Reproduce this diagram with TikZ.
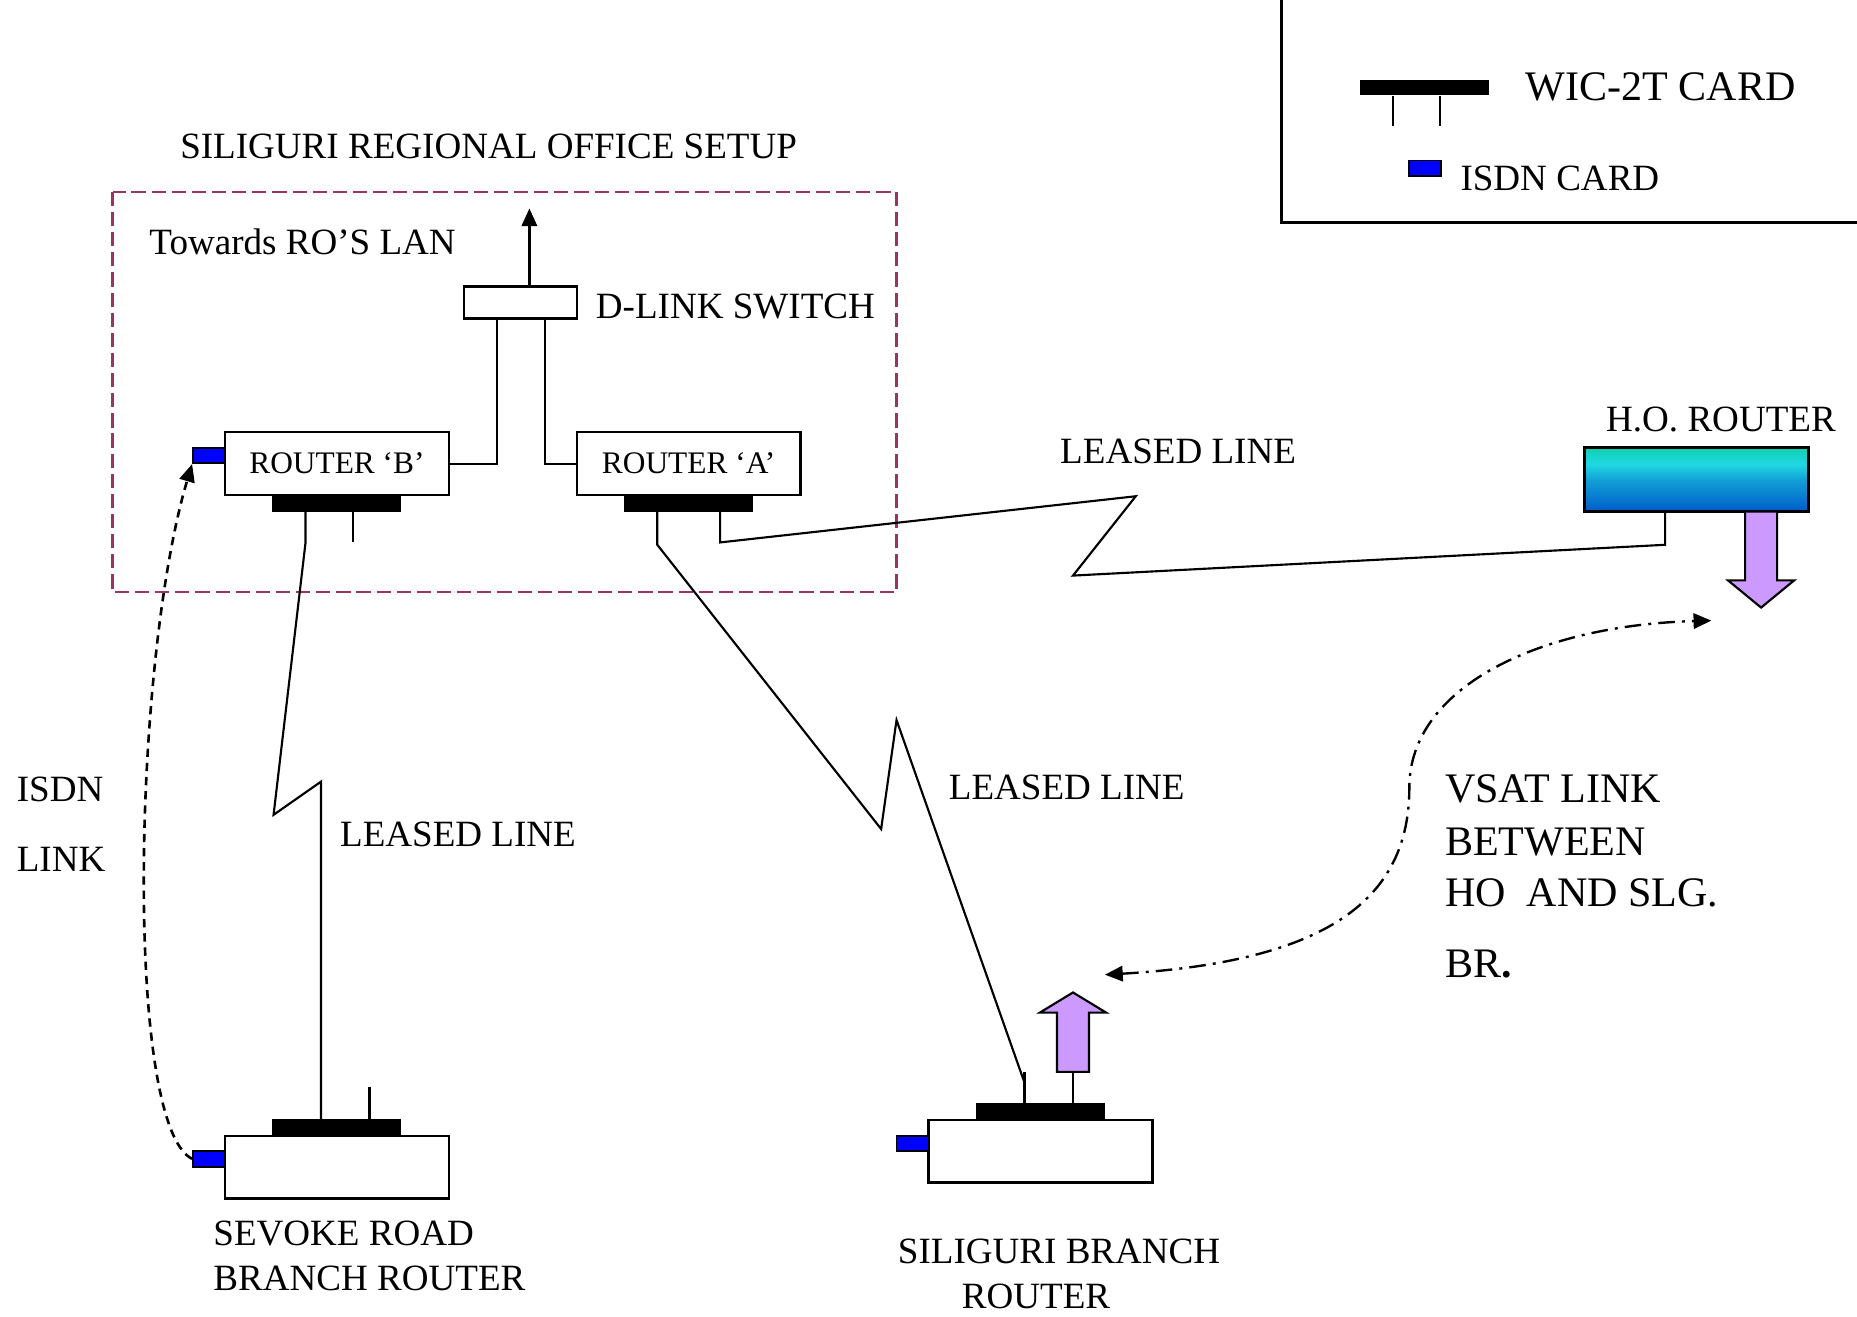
\documentclass[tikz,border=0pt]{standalone}
\usepackage{fontspec}
\setmainfont{Liberation Serif}
\usetikzlibrary{arrows.meta}
\definecolor{isdnblue}{RGB}{0,0,255}
\definecolor{vpurple}{RGB}{204,153,255}
\definecolor{roframe}{RGB}{153,51,102}
\definecolor{hotop}{RGB}{14,208,176}
\definecolor{hocyan}{RGB}{32,216,226}
\definecolor{hobot}{RGB}{0,92,200}
\pgfdeclareverticalshading{horouter}{100bp}{color(0bp)=(hobot); color(25bp)=(hobot); color(50bp)=(hobot!45!hocyan); color(62bp)=(hocyan); color(75bp)=(hotop); color(100bp)=(hotop)}
\newcommand\fa{\fontsize{31.3}{38}\selectfont}
\newcommand\fr{\fontsize{26.5}{32}\selectfont}
\newcommand\fb{\fontsize{35.5}{42}\selectfont}
\begin{document}
\begin{tikzpicture}[x=1pt,y=-1pt,
  rbox/.style={draw, line width=2pt, fill=white, inner sep=0pt, minimum width=189pt, minimum height=53pt},
  sbox/.style={draw, line width=2pt, fill=white, inner sep=0pt, minimum width=95pt, minimum height=27pt},
  wic/.style={fill=black, inner sep=0pt, minimum width=109pt, minimum height=14pt},
  isdn/.style={draw, line width=1.6pt, fill=isdnblue, inner sep=0pt, minimum width=27pt, minimum height=13pt},
  lbl/.style={anchor=base west, inner sep=0pt, text=black},
  conn/.style={line width=1.8pt},
  bigarrow/.style={draw, line width=1.8pt, fill=vpurple, line join=miter},
  tip/.style={-{Triangle[length=15pt,width=13pt]}}
]
\useasboundingbox (0,0) rectangle (1568,1112);

% ---------- legend ----------
\draw[line width=2.2pt] (1082,-5) -- (1082,188) -- (1575,188);
\node[wic, minimum height=13pt] (lwic) at (1202.5,74) {};
\coordinate (lwl) at (1176,106);
\coordinate (lwr) at (1216,106);
\draw[conn] (lwic.south -| lwl) -- (lwl);
\draw[conn] (lwic.south -| lwr) -- (lwr);
\node[lbl] (lwict) at (1288,85) {\fb WIC-2T CARD};
\node[isdn] (lisdn) at (1203,142) {};
\node[lbl] (lisdnt) at (1233,161) {\fa ISDN CARD};

% ---------- regional office ----------
\node[lbl] (title) at (152,134) {\fa SILIGURI REGIONAL OFFICE SETUP};
\draw[roframe, line width=2pt, dash pattern=on 12pt off 5pt] (95,162) rectangle (757,500);
\node[lbl] (tow) at (126,215) {\fa Towards RO’S LAN};
\node[sbox] (sw) at (439.5,255.5) {};
\node[lbl] (swt) at (503,269) {\fa D-LINK SWITCH};
\coordinate (lan) at (447,176);
\draw[line width=2.2pt, tip] (sw.north -| lan) -- (lan);

\node[rbox] (rB) at (284.5,391.5) {\fr ROUTER ‘B’};
\node[rbox] (rA) at (581.5,391.5) {\fr ROUTER ‘A’};
\node[wic] (wB) at (284.5,425) {};
\node[wic] (wA) at (581.5,425) {};
\node[isdn] (iB) at (176.5,384.5) {};

\coordinate (swl) at (420,260);
\coordinate (swr) at (460,260);
\draw[conn] (sw.south -| swl) |- (rB.east);
\draw[conn] (sw.south -| swr) |- (rA.west);

% ---------- H.O. router ----------
\node[lbl] (hot) at (1356,364) {\fa H.O. ROUTER};
\node[draw, line width=2pt, shading=horouter, inner sep=0pt, minimum width=189pt, minimum height=54pt] (ho) at (1432.5,405) {};
\coordinate (hoarr) at (1487,513);
\draw[bigarrow] (1473.5,432) -- (1473.5,490) -- (1459,490) -- (hoarr) -- (1515,490) -- (1500.5,490) -- (1500.5,432) -- cycle;

% leased line A -> HO
\coordinate (aleg) at (608,458);
\coordinate (z1) at (959,419);
\coordinate (z2) at (906,486);
\coordinate (holeg) at (1406,460);
\draw[conn] (wA.south -| aleg) -- (aleg) -- (z1) -- (z2) -- (holeg) -- (ho.south -| holeg);
\node[lbl] (ll1) at (895,391) {\fa LEASED LINE};

% ---------- Sevoke road router ----------
\node[rbox] (sv) at (284.5,985.5) {};
\node[wic] (wS) at (284.5,952) {};
\node[isdn] (iS) at (176.5,978.5) {};
\node[lbl] (svt1) at (180,1052) {\fa SEVOKE ROAD};
\node[lbl] (svt2) at (180,1090) {\fa BRANCH ROUTER};
\coordinate (svtick) at (312,918);
\draw[conn] (wS.north -| svtick) -- (svtick);

% leased line B -> Sevoke
\coordinate (bleg) at (258,458);
\coordinate (z3) at (231,688);
\coordinate (z4) at (271,660);
\coordinate (bleg2) at (298,458);
\draw[conn] (wB.south -| bleg) -- (bleg) -- (z3) -- (z4) -- (wS.north -| z4);
\draw[conn] (wB.south -| bleg2) -- (bleg2);
\node[lbl] (ll2) at (287,715) {\fa LEASED LINE};

% ISDN link
\draw[line width=2.2pt, dash pattern=on 7pt off 5pt, tip] (iS.west) .. controls (105,950) and (112,560) .. (iB.south west);
\node[lbl] (isdnl1) at (14,677) {\fa ISDN};
\node[lbl] (isdnl2) at (14,736) {\fa LINK};

% ---------- Siliguri branch router ----------
\node[rbox] (sb) at (878.5,972) {};
\node[wic] (wSb) at (878.5,938.5) {};
\node[isdn] (iSb) at (770.5,965.5) {};
\node[lbl] (sbt1) at (758,1067) {\fa SILIGURI BRANCH};
\node[lbl] (sbt2) at (812,1105) {\fa ROUTER};

% leased line A -> Siliguri branch
\coordinate (aleg2) at (555,460);
\coordinate (z5) at (744,700);
\coordinate (z6) at (757,608);
\coordinate (z7) at (865,914);
\coordinate (sbtick) at (865,905);
\draw[conn] (wA.south -| aleg2) -- (aleg2) -- (z5) -- (z6) -- (z7);
\draw[conn] (wSb.north -| sbtick) -- (sbtick);
\node[lbl] (ll3) at (801,675) {\fa LEASED LINE};

% purple up arrow
\coordinate (sbstem) at (906,905);
\draw[conn] (wSb.north -| sbstem) -- (sbstem);
\coordinate (sbarr) at (906,838);
\draw[bigarrow] (892.5,905) -- (892.5,855) -- (878,855) -- (sbarr) -- (934,855) -- (919.5,855) -- (919.5,905) -- cycle;

% VSAT link
\coordinate (vs1) at (1445,524);
\coordinate (vs2) at (933,823);
\coordinate (vsm) at (1190,665);
\draw[line width=2pt, dash pattern=on 14pt off 6pt on 2.5pt off 6pt, {Triangle[length=15pt,width=13pt]}-{Triangle[length=15pt,width=13pt]}]
  (vs2) .. controls (1120,812) and (1190,760) .. (vsm) .. controls (1190,580) and (1300,528) .. (vs1);
\node[lbl] (vt1) at (1220,678) {\fb VSAT LINK};
\node[lbl] (vt2) at (1220,722) {\fb BETWEEN};
\node[lbl] (vt3) at (1220,765) {\fb HO\ \ AND SLG.};
\node[lbl] (vt4) at (1220,825) {\fb BR\textbf{.}};
\end{tikzpicture}
\end{document}
